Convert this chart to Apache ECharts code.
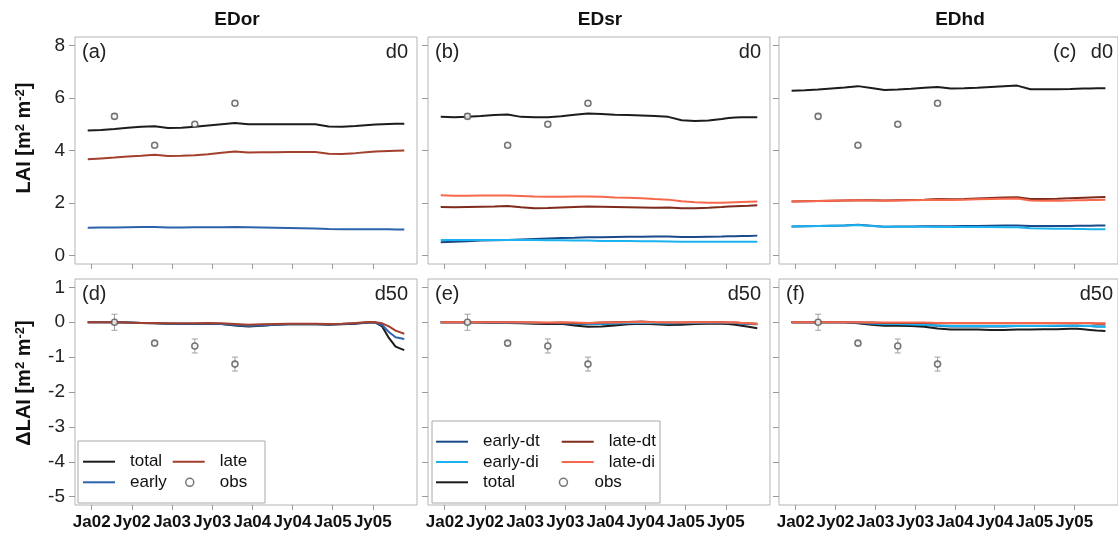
<!DOCTYPE html>
<html>
<head>
<meta charset="utf-8">
<title>LAI and ΔLAI – EDor, EDsr, EDhd</title>
<script src="https://cdn.jsdelivr.net/npm/echarts@6/dist/echarts.min.js"></script>
<style>
  html, body { margin: 0; padding: 0; background: #fff; }
  #chart { width: 1118px; height: 536px; }
</style>
</head>
<body>
<div id="chart"></div>
<script>
// Time axis: months since January 2002
const months = [-0.6, 1.4, 3.4, 5.4, 7.4, 9.4, 11.4, 13.4, 15.4, 17.4, 19.4, 21.4, 23.4,
  25.4, 27.4, 29.4, 31.4, 33.4, 35.4, 37.4, 39.4, 41.4, 42.4, 43.4, 44.4, 45.4, 46.7];
const tickMonths = [0, 6, 12, 18, 24, 30, 36, 42];
const tickLabels = ['Ja02', 'Jy02', 'Ja03', 'Jy03', 'Ja04', 'Jy04', 'Ja05', 'Jy05'];
const laiTicks = [0, 2, 4, 6, 8];
const dlaiTicks = [1, 0, -1, -2, -3, -4, -5];

// Field observations
const obsMonths = [3.4, 9.4, 15.4, 21.4];
const obsLAI = [5.3, 4.2, 5.0, 5.8];
const obsLAIErr = [0.1, 0.06, 0.08, 0.08];
const obsDLAI = [0.0, -0.6, -0.68, -1.2];
const obsDLAIErr = [0.23, 0.04, 0.2, 0.2];

// EDor, control run (d0)
const edorTotal = [4.76, 4.78, 4.82, 4.87, 4.90, 4.92, 4.86, 4.87, 4.90, 4.95, 5.00, 5.05, 5.00,
  5.00, 5.00, 5.00, 5.00, 5.00, 4.91, 4.90, 4.93, 4.97, 4.99, 5.00, 5.01, 5.02, 5.02];
const edorLate = [3.67, 3.70, 3.73, 3.77, 3.80, 3.84, 3.79, 3.80, 3.82, 3.86, 3.91, 3.96, 3.92,
  3.93, 3.93, 3.94, 3.94, 3.94, 3.88, 3.87, 3.90, 3.94, 3.96, 3.97, 3.98, 3.99, 4.00];
const edorEarly = [1.06, 1.07, 1.07, 1.08, 1.09, 1.09, 1.07, 1.07, 1.08, 1.08, 1.08, 1.09, 1.08,
  1.07, 1.06, 1.05, 1.04, 1.03, 1.01, 1.00, 1.00, 1.00, 1.00, 1.00, 1.00, 0.99, 0.99];

// EDsr, control run (d0)
const edsrTotal = [5.28, 5.27, 5.28, 5.31, 5.35, 5.37, 5.28, 5.27, 5.27, 5.30, 5.36, 5.41, 5.39,
  5.36, 5.35, 5.33, 5.31, 5.28, 5.15, 5.12, 5.14, 5.20, 5.24, 5.26, 5.27, 5.27, 5.27];
const edsrEarlyDt = [0.51, 0.53, 0.55, 0.57, 0.58, 0.59, 0.61, 0.63, 0.65, 0.67, 0.68, 0.70, 0.70,
  0.71, 0.72, 0.72, 0.73, 0.73, 0.71, 0.71, 0.72, 0.73, 0.74, 0.74, 0.75, 0.75, 0.76];
const edsrEarlyDi = [0.59, 0.59, 0.59, 0.59, 0.59, 0.59, 0.59, 0.59, 0.58, 0.58, 0.57, 0.57, 0.56,
  0.56, 0.56, 0.55, 0.55, 0.54, 0.53, 0.53, 0.53, 0.53, 0.53, 0.53, 0.53, 0.53, 0.53];
const edsrLateDt = [1.85, 1.84, 1.85, 1.86, 1.87, 1.89, 1.84, 1.80, 1.81, 1.83, 1.85, 1.87, 1.86,
  1.85, 1.84, 1.83, 1.82, 1.83, 1.80, 1.80, 1.82, 1.85, 1.87, 1.88, 1.89, 1.90, 1.92];
const edsrLateDi = [2.30, 2.28, 2.28, 2.29, 2.29, 2.29, 2.27, 2.25, 2.24, 2.24, 2.25, 2.25, 2.24,
  2.21, 2.20, 2.18, 2.15, 2.13, 2.07, 2.03, 2.01, 2.01, 2.02, 2.03, 2.04, 2.05, 2.06];

// EDhd, control run (d0)
const edhdTotal = [6.27, 6.29, 6.32, 6.36, 6.40, 6.45, 6.38, 6.30, 6.32, 6.35, 6.39, 6.42, 6.36,
  6.37, 6.39, 6.42, 6.45, 6.47, 6.33, 6.33, 6.33, 6.34, 6.35, 6.36, 6.36, 6.37, 6.37];
const edhdEarlyDt = [1.11, 1.12, 1.13, 1.14, 1.15, 1.17, 1.14, 1.10, 1.11, 1.11, 1.12, 1.12, 1.12,
  1.13, 1.13, 1.14, 1.15, 1.15, 1.13, 1.13, 1.13, 1.13, 1.14, 1.14, 1.14, 1.15, 1.15];
const edhdEarlyDi = [1.11, 1.12, 1.13, 1.14, 1.15, 1.16, 1.13, 1.10, 1.10, 1.10, 1.10, 1.09, 1.09,
  1.09, 1.09, 1.09, 1.08, 1.08, 1.04, 1.03, 1.02, 1.02, 1.01, 1.01, 1.00, 1.00, 1.00];
const edhdLateDt = [2.06, 2.07, 2.08, 2.09, 2.10, 2.11, 2.11, 2.10, 2.11, 2.12, 2.13, 2.15, 2.14,
  2.15, 2.17, 2.19, 2.21, 2.22, 2.15, 2.15, 2.16, 2.18, 2.19, 2.20, 2.21, 2.22, 2.23];
const edhdLateDi = [2.06, 2.07, 2.08, 2.09, 2.10, 2.11, 2.10, 2.09, 2.10, 2.11, 2.12, 2.13, 2.12,
  2.13, 2.14, 2.15, 2.16, 2.17, 2.10, 2.09, 2.09, 2.10, 2.11, 2.11, 2.12, 2.12, 2.13];

// EDor, 50% defoliation minus control (d50)
const edorTotalD = [0, 0, 0, -0.01, -0.02, -0.03, -0.04, -0.05, -0.05, -0.04, -0.05, -0.09, -0.12,
  -0.10, -0.07, -0.06, -0.06, -0.06, -0.07, -0.06, -0.04, -0.01, -0.01, -0.12, -0.45, -0.70, -0.80];
const edorEarlyD = [0, 0, 0, -0.01, -0.02, -0.03, -0.04, -0.04, -0.04, -0.04, -0.05, -0.08, -0.11,
  -0.09, -0.07, -0.06, -0.06, -0.06, -0.06, -0.05, -0.03, -0.01, -0.01, -0.08, -0.28, -0.43, -0.48];
const edorLateD = [0, 0, 0, -0.01, -0.02, -0.02, -0.03, -0.03, -0.03, -0.02, -0.03, -0.05, -0.07,
  -0.06, -0.05, -0.04, -0.04, -0.04, -0.05, -0.04, -0.02, 0.01, 0.0, -0.03, -0.12, -0.24, -0.33];

// EDsr, d50
const edsrTotalD = [0, 0, 0, -0.01, -0.02, -0.02, -0.03, -0.04, -0.05, -0.04, -0.09, -0.13, -0.12,
  -0.09, -0.06, -0.04, -0.06, -0.08, -0.07, -0.05, -0.04, -0.04, -0.05, -0.07, -0.10, -0.13, -0.17];
const edsrEarlyDtD = [0, 0, 0, 0, -0.01, -0.01, -0.02, -0.02, -0.03, -0.02, -0.04, -0.06, -0.05,
  -0.04, -0.03, -0.02, -0.03, -0.04, -0.03, -0.02, -0.02, -0.02, -0.02, -0.03, -0.04, -0.05, -0.06];
const edsrEarlyDiD = [0, 0, 0, 0, -0.01, -0.01, -0.01, -0.02, -0.02, -0.02, -0.03, -0.04, -0.04,
  -0.03, -0.02, -0.02, -0.02, -0.03, -0.02, -0.02, -0.01, -0.01, -0.02, -0.02, -0.03, -0.04, -0.05];
const edsrLateDtD = [0, 0, 0, 0, 0, 0, -0.01, -0.01, -0.02, -0.01, -0.02, -0.03, -0.01,
  0.0, 0.01, 0.02, 0.0, -0.01, -0.01, 0, 0, 0, -0.01, -0.01, -0.02, -0.03, -0.04];
const edsrLateDiD = [0, 0, 0, 0, 0, 0, 0, -0.01, -0.01, -0.01, -0.01, -0.02, -0.01,
  -0.01, 0, 0.01, 0, -0.01, -0.01, 0, 0, 0, -0.01, -0.01, -0.02, -0.03, -0.05];

// EDhd, d50
const edhdTotalD = [0, 0, 0, 0, 0, -0.03, -0.07, -0.10, -0.10, -0.11, -0.13, -0.18, -0.21,
  -0.21, -0.21, -0.22, -0.22, -0.21, -0.21, -0.20, -0.20, -0.19, -0.19, -0.20, -0.22, -0.24, -0.25];
const edhdEarlyDtD = [0, 0, 0, 0, 0, -0.02, -0.04, -0.06, -0.06, -0.07, -0.08, -0.10, -0.12,
  -0.12, -0.12, -0.12, -0.12, -0.11, -0.11, -0.11, -0.11, -0.10, -0.10, -0.11, -0.11, -0.12, -0.12];
const edhdEarlyDiD = [0, 0, 0, 0, 0, -0.01, -0.03, -0.05, -0.05, -0.06, -0.07, -0.09, -0.11,
  -0.11, -0.11, -0.11, -0.11, -0.11, -0.11, -0.11, -0.10, -0.10, -0.10, -0.11, -0.11, -0.12, -0.13];
const edhdLateDtD = [0, 0, 0, 0, 0, -0.01, -0.01, -0.02, -0.02, -0.02, -0.02, -0.03, -0.03,
  -0.03, -0.03, -0.03, -0.03, -0.03, -0.03, -0.03, -0.03, -0.03, -0.03, -0.03, -0.03, -0.04, -0.04];
const edhdLateDiD = [0, 0, 0, 0, 0, 0, -0.01, -0.01, -0.01, -0.01, -0.01, -0.02, -0.02,
  -0.02, -0.02, -0.02, -0.02, -0.02, -0.02, -0.02, -0.02, -0.02, -0.02, -0.02, -0.02, -0.03, -0.03];

const colors = {
  'total': '#1c1c1c',
  'early': '#2c63ac',
  'late': '#a23f2d',
  'early-dt': '#1b4a8a',
  'early-di': '#1ab2ef',
  'late-dt': '#7e2a1d',
  'late-di': '#f7674c'
};

// Panel layout: one column per model, top row LAI (d0), bottom row ΔLAI (d50)
const FONT = '"Liberation Sans", Arial, sans-serif';
const colLeft = [75, 428, 779];
const colWidth = 342;
const rowTop = [37, 279];
const rowHeight = [227, 226];
const rowRange = [[-0.32, 8.32], [-5.24, 1.24]];
const rowTicks = [laiTicks, dlaiTicks];

const panels = [
  { row: 0, col: 0, tag: '(a)', run: 'd0', lines: [['total', edorTotal], ['early', edorEarly], ['late', edorLate]], obs: obsLAI, err: obsLAIErr },
  { row: 0, col: 1, tag: '(b)', run: 'd0', lines: [['total', edsrTotal], ['early-dt', edsrEarlyDt], ['early-di', edsrEarlyDi], ['late-dt', edsrLateDt], ['late-di', edsrLateDi]], obs: obsLAI, err: obsLAIErr },
  { row: 0, col: 2, tag: '(c)', run: 'd0', lines: [['total', edhdTotal], ['early-dt', edhdEarlyDt], ['early-di', edhdEarlyDi], ['late-dt', edhdLateDt], ['late-di', edhdLateDi]], obs: obsLAI, err: obsLAIErr },
  { row: 1, col: 0, tag: '(d)', run: 'd50', lines: [['total', edorTotalD], ['early', edorEarlyD], ['late', edorLateD]], obs: obsDLAI, err: obsDLAIErr },
  { row: 1, col: 1, tag: '(e)', run: 'd50', lines: [['total', edsrTotalD], ['early-dt', edsrEarlyDtD], ['early-di', edsrEarlyDiD], ['late-dt', edsrLateDtD], ['late-di', edsrLateDiD]], obs: obsDLAI, err: obsDLAIErr },
  { row: 1, col: 2, tag: '(f)', run: 'd50', lines: [['total', edhdTotalD], ['early-dt', edhdEarlyDtD], ['early-di', edhdEarlyDiD], ['late-dt', edhdLateDtD], ['late-di', edhdLateDiD]], obs: obsDLAI, err: obsDLAIErr }
];

const grids = [], xAxes = [], yAxes = [], series = [], graphics = [];

panels.forEach((p, i) => {
  grids.push({
    left: colLeft[p.col], top: rowTop[p.row], width: colWidth, height: rowHeight[p.row],
    show: true, borderColor: '#b4b4b4', borderWidth: 1, backgroundColor: 'transparent'
  });
  xAxes.push({
    type: 'value', gridIndex: i, min: -2.5, max: 48.6, position: 'bottom',
    axisLine: { show: false, onZero: false }, splitLine: { show: false },
    axisTick: { show: true, inside: false, length: 5, customValues: tickMonths, lineStyle: { color: '#9a9a9a' } },
    axisLabel: {
      show: p.row === 1, customValues: tickMonths, margin: 9,
      formatter: v => tickLabels[tickMonths.indexOf(v)],
      fontFamily: FONT, fontWeight: 'bold', fontSize: 17, color: '#111'
    }
  });
  yAxes.push({
    type: 'value', gridIndex: i, min: rowRange[p.row][0], max: rowRange[p.row][1], position: 'left',
    axisLine: { show: false, onZero: false }, splitLine: { show: false },
    axisTick: { show: true, inside: false, length: 6, customValues: rowTicks[p.row], lineStyle: { color: '#9a9a9a' } },
    axisLabel: {
      show: p.col === 0, customValues: rowTicks[p.row], margin: 10,
      fontFamily: FONT, fontSize: 19, color: '#222'
    }
  });
  p.lines.forEach(([name, vals]) => {
    series.push({
      type: 'line', name, xAxisIndex: i, yAxisIndex: i,
      data: months.map((m, k) => [m, vals[k]]),
      symbol: 'none', animation: false,
      lineStyle: { color: colors[name], width: 2 },
      itemStyle: { color: colors[name] }
    });
  });
  // error bars around the observations
  series.push({
    type: 'custom', name: 'obs-err', xAxisIndex: i, yAxisIndex: i, animation: false,
    data: obsMonths.map((m, k) => [m, p.obs[k], p.err[k]]),
    renderItem: (params, api) => {
      const x = api.value(0), y = api.value(1), e = api.value(2);
      const hi = api.coord([x, y + e]);
      const lo = api.coord([x, y - e]);
      const cap = 3;
      const st = { stroke: '#a0a0a0', lineWidth: 1 };
      return {
        type: 'group',
        children: [
          { type: 'line', shape: { x1: hi[0], y1: hi[1], x2: lo[0], y2: lo[1] }, style: st },
          { type: 'line', shape: { x1: hi[0] - cap, y1: hi[1], x2: hi[0] + cap, y2: hi[1] }, style: st },
          { type: 'line', shape: { x1: lo[0] - cap, y1: lo[1], x2: lo[0] + cap, y2: lo[1] }, style: st }
        ]
      };
    }
  });
  series.push({
    type: 'scatter', name: 'obs', xAxisIndex: i, yAxisIndex: i, animation: false,
    data: obsMonths.map((m, k) => [m, p.obs[k]]),
    symbol: 'circle', symbolSize: 6, z: 5,
    itemStyle: { color: '#ffffff', borderColor: '#555', borderWidth: 1.6 }
  });

  // panel tags and run labels
  const gl = colLeft[p.col], gt = rowTop[p.row];
  const labelY = gt + 15;
  graphics.push({
    type: 'text', x: p.col === 2 && p.row === 0 ? 1053 : gl + 7, y: labelY,
    style: { text: p.tag, fontFamily: FONT, fontSize: 20, fill: '#222', align: 'left', verticalAlign: 'middle' }
  });
  graphics.push({
    type: 'text', x: p.col === 2 ? 1113 : gl + 333, y: labelY,
    style: { text: p.run, fontFamily: FONT, fontSize: 20, fill: '#222', align: 'right', verticalAlign: 'middle' }
  });
});

// column titles
const titles = [['EDor', 237], ['EDsr', 600], ['EDhd', 960]];
titles.forEach(([t, x]) => graphics.push({
  type: 'text', x, y: 20,
  style: { text: t, fontFamily: FONT, fontWeight: 'bold', fontSize: 19, fill: '#111', align: 'center', verticalAlign: 'middle' }
}));

// rotated y-axis names with superscripts
function axisName(prefix, y) {
  return {
    type: 'text', x: 24, y, rotation: Math.PI / 2,
    style: {
      text: '{n|' + prefix + ' [m}{s|2}{n| m}{s|-2}{n|]}',
      align: 'center', verticalAlign: 'middle',
      rich: {
        n: { fontFamily: FONT, fontWeight: 'bold', fontSize: 20, fill: '#111' },
        s: { fontFamily: FONT, fontWeight: 'bold', fontSize: 13, fill: '#111', verticalAlign: 'top' }
      }
    }
  };
}
graphics.push(axisName('LAI', 138));
graphics.push(axisName('ΔLAI', 383));

// legend frames
graphics.push({ type: 'rect', z: 3, shape: { x: 78, y: 441, width: 187, height: 62 }, style: { fill: '#fff', stroke: '#a8a8a8', lineWidth: 1 } });
graphics.push({ type: 'rect', z: 3, shape: { x: 432, y: 421, width: 228, height: 82 }, style: { fill: '#fff', stroke: '#a8a8a8', lineWidth: 1 } });

const legendText = { fontFamily: FONT, fontSize: 17, color: '#111', lineHeight: 20, padding: [0, 0, 0, 10] };
const obsLegendItem = { name: 'obs', icon: 'circle', itemStyle: { color: '#fff', borderColor: '#555', borderWidth: 1.5 } };
function legend(left, top, data, extra) {
  return Object.assign({
    left, top, orient: 'vertical', data, padding: 0, itemGap: 0.6,
    icon: 'rect', itemWidth: 32, itemHeight: 2, selectedMode: false, z: 6,
    textStyle: legendText
  }, extra || {});
}
const legends = [
  legend(83, 451.7, ['total', 'early']),
  legend(172.7, 451.7, ['late']),
  legend(185, 472.3, [obsLegendItem], { itemWidth: 8, itemHeight: 8, textStyle: Object.assign({}, legendText, { padding: [0, 0, 0, 21] }) }),
  legend(436, 431.7, ['early-dt', 'early-di', 'total'], { itemGap: 0.3 }),
  legend(561.7, 431.7, ['late-dt', 'late-di'], { itemGap: 0.3 }),
  legend(558.7, 472.3, [obsLegendItem], { itemWidth: 8, itemHeight: 8, textStyle: Object.assign({}, legendText, { padding: [0, 0, 0, 22] }) })
];

const chart = echarts.init(document.getElementById('chart'), null, { renderer: 'canvas' });
chart.setOption({
  backgroundColor: '#ffffff',
  animation: false,
  grid: grids,
  xAxis: xAxes,
  yAxis: yAxes,
  legend: legends,
  series,
  graphic: graphics
});
</script>
</body>
</html>
